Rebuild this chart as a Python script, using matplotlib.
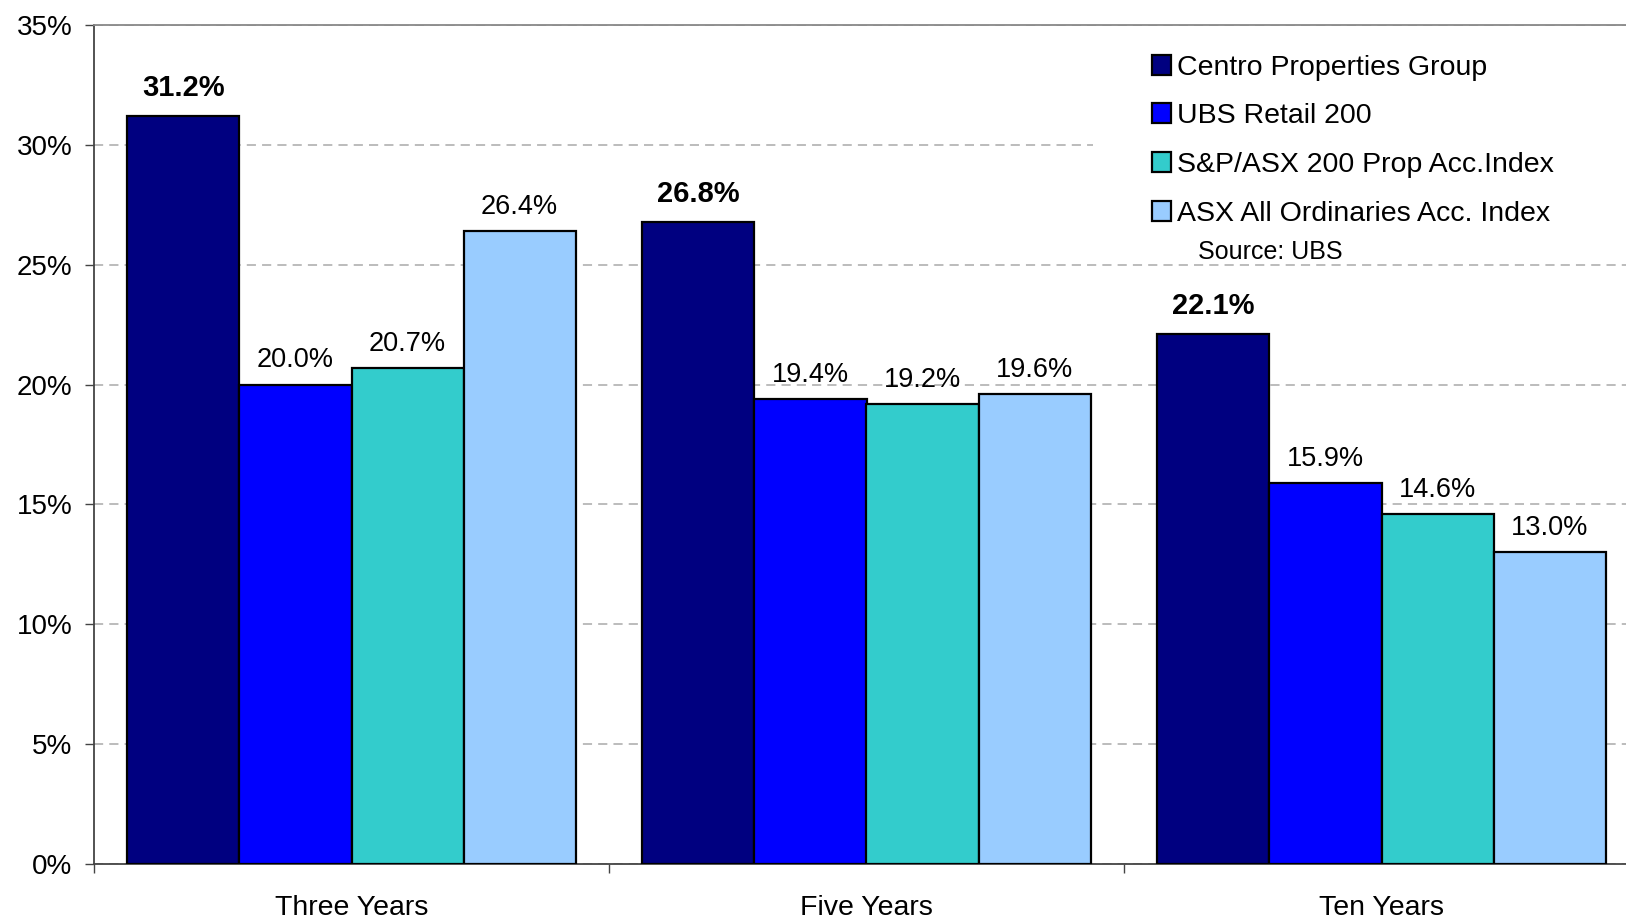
import matplotlib
matplotlib.use("Agg")
import matplotlib.pyplot as plt
from matplotlib.patches import Rectangle
import numpy as np

plt.rcParams['font.family'] = ['Liberation Sans', 'DejaVu Sans']

categories = ["Three Years", "Five Years", "Ten Years"]
series_names = ["Centro Properties Group", "UBS Retail 200",
                "S&P/ASX 200 Prop Acc.Index", "ASX All Ordinaries Acc. Index"]
centro = [31.2, 26.8, 22.1]
ubs_retail = [20.0, 19.4, 15.9]
sp_asx_prop = [20.7, 19.2, 14.6]
asx_all_ords = [26.4, 19.6, 13.0]
colors = ["#000080", "#0000FF", "#33CCCC", "#99CCFF"]
yticks = [0, 5, 10, 15, 20, 25, 30, 35]

W, H = 1626, 918
fig = plt.figure(figsize=(W / 100, H / 100), dpi=100)
ax = fig.add_axes([94 / W, 1 - 864 / H, 1545 / W, (864 - 25) / H])

x = np.arange(len(categories))
bw = 0.87 / 4
all_series = [centro, ubs_retail, sp_asx_prop, asx_all_ords]
for i, vals in enumerate(all_series):
    pos = x + (i - 1.5) * bw
    bars = ax.bar(pos, vals, bw, color=colors[i], edgecolor="black",
                  linewidth=1.6, label=series_names[i], zorder=3)
    for b, v in zip(bars, vals):
        if i == 0:
            ax.annotate("%.1f%%" % v, (b.get_x() + b.get_width() / 2, v),
                        xytext=(0, 10), textcoords="offset points",
                        ha="center", va="bottom", fontsize=21, fontweight="bold")
        else:
            ax.annotate("%.1f%%" % v, (b.get_x() + b.get_width() / 2, v),
                        xytext=(0, 8), textcoords="offset points",
                        ha="center", va="bottom", fontsize=19.5)

ax.set_xlim(-0.5, 2.5)
ax.set_ylim(0, 35)
ax.set_yticks(yticks)
ax.set_yticklabels(["%d%%" % t for t in yticks])
ax.yaxis.grid(True, linestyle=(0, (6, 4)), color="#aaaaaa", linewidth=1.1, zorder=0)
ax.set_axisbelow(True)

# white box behind the legend hides the gridline there
ax.add_patch(Rectangle((1093 / W, 1 - 240 / H), 560 / W, 205 / H,
                       transform=fig.transFigure, facecolor="white",
                       edgecolor="none", zorder=1))

# category labels centred, ticks at the boundaries
ax.set_xticks(x)
ax.set_xticklabels(categories)
ax.set_xticks(np.arange(len(categories) + 1) - 0.5, minor=True)
ax.tick_params(axis="x", which="major", length=0, pad=22.5, labelsize=20.5)
ax.tick_params(axis="x", which="minor", length=6.5, width=1, color="#444444")
ax.tick_params(axis="y", length=6.5, width=1, color="#444444", pad=9, labelsize=20)

ax.spines["left"].set_color("#444444")
ax.spines["left"].set_linewidth(1.3)
ax.spines["bottom"].set_color("#444444")
ax.spines["bottom"].set_linewidth(1.3)
ax.spines["top"].set_color("#888888")
ax.spines["top"].set_linewidth(1.3)
ax.spines["right"].set_visible(False)

leg = ax.legend(loc="upper left", bbox_to_anchor=(1143 / W, 1 - 46 / H),
                bbox_transform=fig.transFigure, fontsize=20.5, frameon=False,
                handlelength=0.7, handleheight=0.7, handletextpad=0.2,
                labelspacing=0.8, borderpad=0.3, borderaxespad=0)
for h in leg.legend_handles:
    h.set_linewidth(1.6)
fig.text(1198 / W, 1 - 252 / H, "Source: UBS", fontsize=18, va="center", ha="left")

fig.savefig("out.png", dpi=100)
